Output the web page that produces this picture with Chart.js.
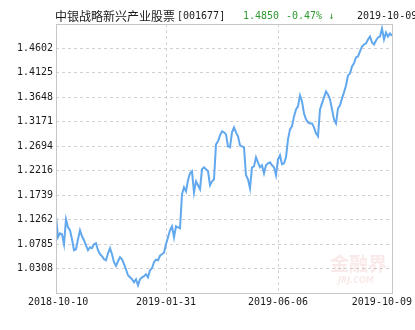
<!DOCTYPE html>
<html>
<head>
<meta charset="utf-8">
<script src="https://cdn.jsdelivr.net/npm/chart.js@4.4.0/dist/chart.umd.min.js"></script>
<style>
html,body{margin:0;padding:0;background:#fff;}
canvas{display:block;}
</style>
</head>
<body>
<canvas id="c" width="415" height="330"></canvas>
<script>
// ---- text ----
const titleName = '中银战略新兴产业股票';
const titleCode = '[001677]';
const lastValue = '1.4850';
const changeText = '-0.47% \u2193';
const dateText = '2019-10-09';

// ---- axes ----
const xTickLabels = ['2018-10-10', '2019-01-31', '2019-06-06', '2019-10-09'];
const xTickIndex = [0, 55, 111, 168];
const yTickLabels = ['1.0308', '1.0785', '1.1262', '1.1739', '1.2216', '1.2694', '1.3171', '1.3648', '1.4125', '1.4602'];
const yMin = 0.9831;
const yMax = 1.5079;

// ---- series: unit net value ----
const navValues = [
  1.1333,1.0918,1.0996,1.0977,1.0782,1.1269,1.1113,1.1055,1.0879,1.0665,
  1.0684,1.0879,1.1055,1.0938,1.0860,1.0762,1.0665,1.0723,1.0704,1.0782,
  1.0801,1.0665,1.0587,1.0548,1.0489,1.0470,1.0606,1.0704,1.0587,1.0431,
  1.0359,1.0450,1.0528,1.0489,1.0392,1.0294,1.0177,1.0138,1.0099,1.0041,
  1.0099,0.9982,1.0099,1.0138,1.0158,1.0197,1.0138,1.0275,1.0314,1.0431,
  1.0480,1.0470,1.0558,1.0587,1.0616,1.0782,1.0918,1.1055,1.1133,1.0918,
  1.1133,1.1113,1.1094,1.1756,1.1893,1.1815,1.2029,1.2166,1.2205,1.1795,
  1.2010,1.1932,1.1854,1.2244,1.2283,1.2244,1.2205,1.1932,1.2010,1.2049,
  1.2731,1.2790,1.2906,1.2984,1.2965,1.2926,1.2692,1.2673,1.2965,1.3062,
  1.2965,1.2887,1.2712,1.2692,1.2673,1.2127,1.2049,1.1873,1.2283,1.2302,
  1.2478,1.2380,1.2283,1.2322,1.2166,1.2322,1.2361,1.2380,1.2322,1.2283,
  1.2127,1.2439,1.2517,1.2341,1.2361,1.2478,1.2829,1.3023,1.3082,1.3277,
  1.3413,1.3472,1.3686,1.3569,1.3335,1.3218,1.3160,1.3140,1.3140,1.3062,
  1.2945,1.2887,1.3413,1.3530,1.3647,1.3764,1.3706,1.3608,1.3413,1.3218,
  1.3140,1.3433,1.3491,1.3628,1.3745,1.3881,1.4076,1.4115,1.4252,1.4310,
  1.4427,1.4446,1.4544,1.4641,1.4680,1.4700,1.4778,1.4836,1.4719,1.4680,
  1.4758,1.4817,1.4836,1.4992,1.4778,1.4914,1.4836,1.4895,1.4850
];

const MONO = '"DejaVu Sans Mono", "Liberation Mono", monospace';
const CJK = '"Noto Sans CJK SC", "Noto Sans", sans-serif';
const GRID = '#d2d2d2';

const decor = {
  id: 'decor',
  beforeDatasetsDraw(chart) {
    const ctx = chart.ctx;
    // faint watermark
    ctx.save();
    ctx.fillStyle = 'rgba(225,120,120,0.16)';
    ctx.font = 'bold 19px ' + CJK;
    ctx.textBaseline = 'middle';
    ctx.textAlign = 'left';
    ctx.fillText('金融界', 330, 264);
    ctx.font = 'italic bold 8px "DejaVu Sans", sans-serif';
    ctx.fillText('JRJ.COM', 338, 281);
    ctx.restore();
  },
  afterDraw(chart) {
    const ctx = chart.ctx;
    const a = chart.chartArea;
    ctx.save();
    // frame
    ctx.strokeStyle = '#c6c6c6';
    ctx.lineWidth = 1;
    ctx.strokeRect(Math.round(a.left) + 0.5, Math.round(a.top) + 0.5,
                   Math.round(a.right - a.left), Math.round(a.bottom - a.top));
    // x labels
    const xs = chart.scales.x;
    ctx.font = '10px ' + MONO;
    ctx.fillStyle = '#1a1a1a';
    ctx.textBaseline = 'middle';
    ctx.textAlign = 'left';
    xTickIndex.forEach((v, i) => {
      const t = xTickLabels[i];
      const w = ctx.measureText(t).width;
      let x0 = xs.getPixelForValue(v) - w / 2;
      if (x0 < 28) x0 = 28;
      if (x0 + w > 412) x0 = 412 - w;
      ctx.fillText(t, x0, 302);
    });
    // title
    const ty = 16;
    let x = 55;
    ctx.fillStyle = '#1a1a1a';
    ctx.font = '12px ' + CJK;
    ctx.fillText(titleName, x, ty);
    x += ctx.measureText(titleName).width + 2;
    ctx.font = '10px ' + MONO;
    ctx.fillText(titleCode, x, ty);
    ctx.fillStyle = '#2f9a2f';
    ctx.fillText(lastValue, 243, ty);
    ctx.fillText(changeText, 286, ty);
    ctx.fillStyle = '#1a1a1a';
    ctx.fillText(dateText, 357, ty);
    ctx.restore();
  }
};

new Chart(document.getElementById('c'), {
  type: 'line',
  data: {
    datasets: [{
      data: navValues.map((v, i) => ({ x: i, y: v })),
      borderColor: '#62a8ee',
      borderWidth: 2,
      pointRadius: 0,
      tension: 0,
      fill: false
    }]
  },
  options: {
    responsive: false,
    animation: false,
    devicePixelRatio: 1,
    layout: { padding: { top: 24, right: 23, left: 0, bottom: 0 } },
    plugins: { legend: { display: false }, tooltip: { enabled: false } },
    scales: {
      x: {
        type: 'linear',
        min: 0,
        max: navValues.length - 1,
        afterBuildTicks(s) { s.ticks = xTickIndex.map(v => ({ value: v })); },
        afterFit(s) { s.height = 37; },
        ticks: { display: false },
        grid: {
          drawTicks: false,
          color: c => (c.index === 0 || c.index === xTickIndex.length - 1) ? 'rgba(0,0,0,0)' : GRID
        },
        border: { display: false, dash: [3, 3] }
      },
      y: {
        type: 'linear',
        min: yMin,
        max: yMax,
        afterBuildTicks(s) {
          s.ticks = [yMin].concat(yTickLabels.map(Number), [yMax]).map(v => ({ value: v }));
        },
        afterFit(s) { s.width = 56; },
        ticks: {
          autoSkip: false,
          padding: 3,
          color: '#1a1a1a',
          font: { family: MONO, size: 10 },
          callback: (v, i) => (i === 0 || i === yTickLabels.length + 1) ? '' : yTickLabels[i - 1]
        },
        grid: {
          drawTicks: false,
          color: c => (c.index === 0 || c.index === yTickLabels.length + 1) ? 'rgba(0,0,0,0)' : GRID
        },
        border: { display: false, dash: [3, 3] }
      }
    }
  },
  plugins: [decor]
});
</script>
</body>
</html>
